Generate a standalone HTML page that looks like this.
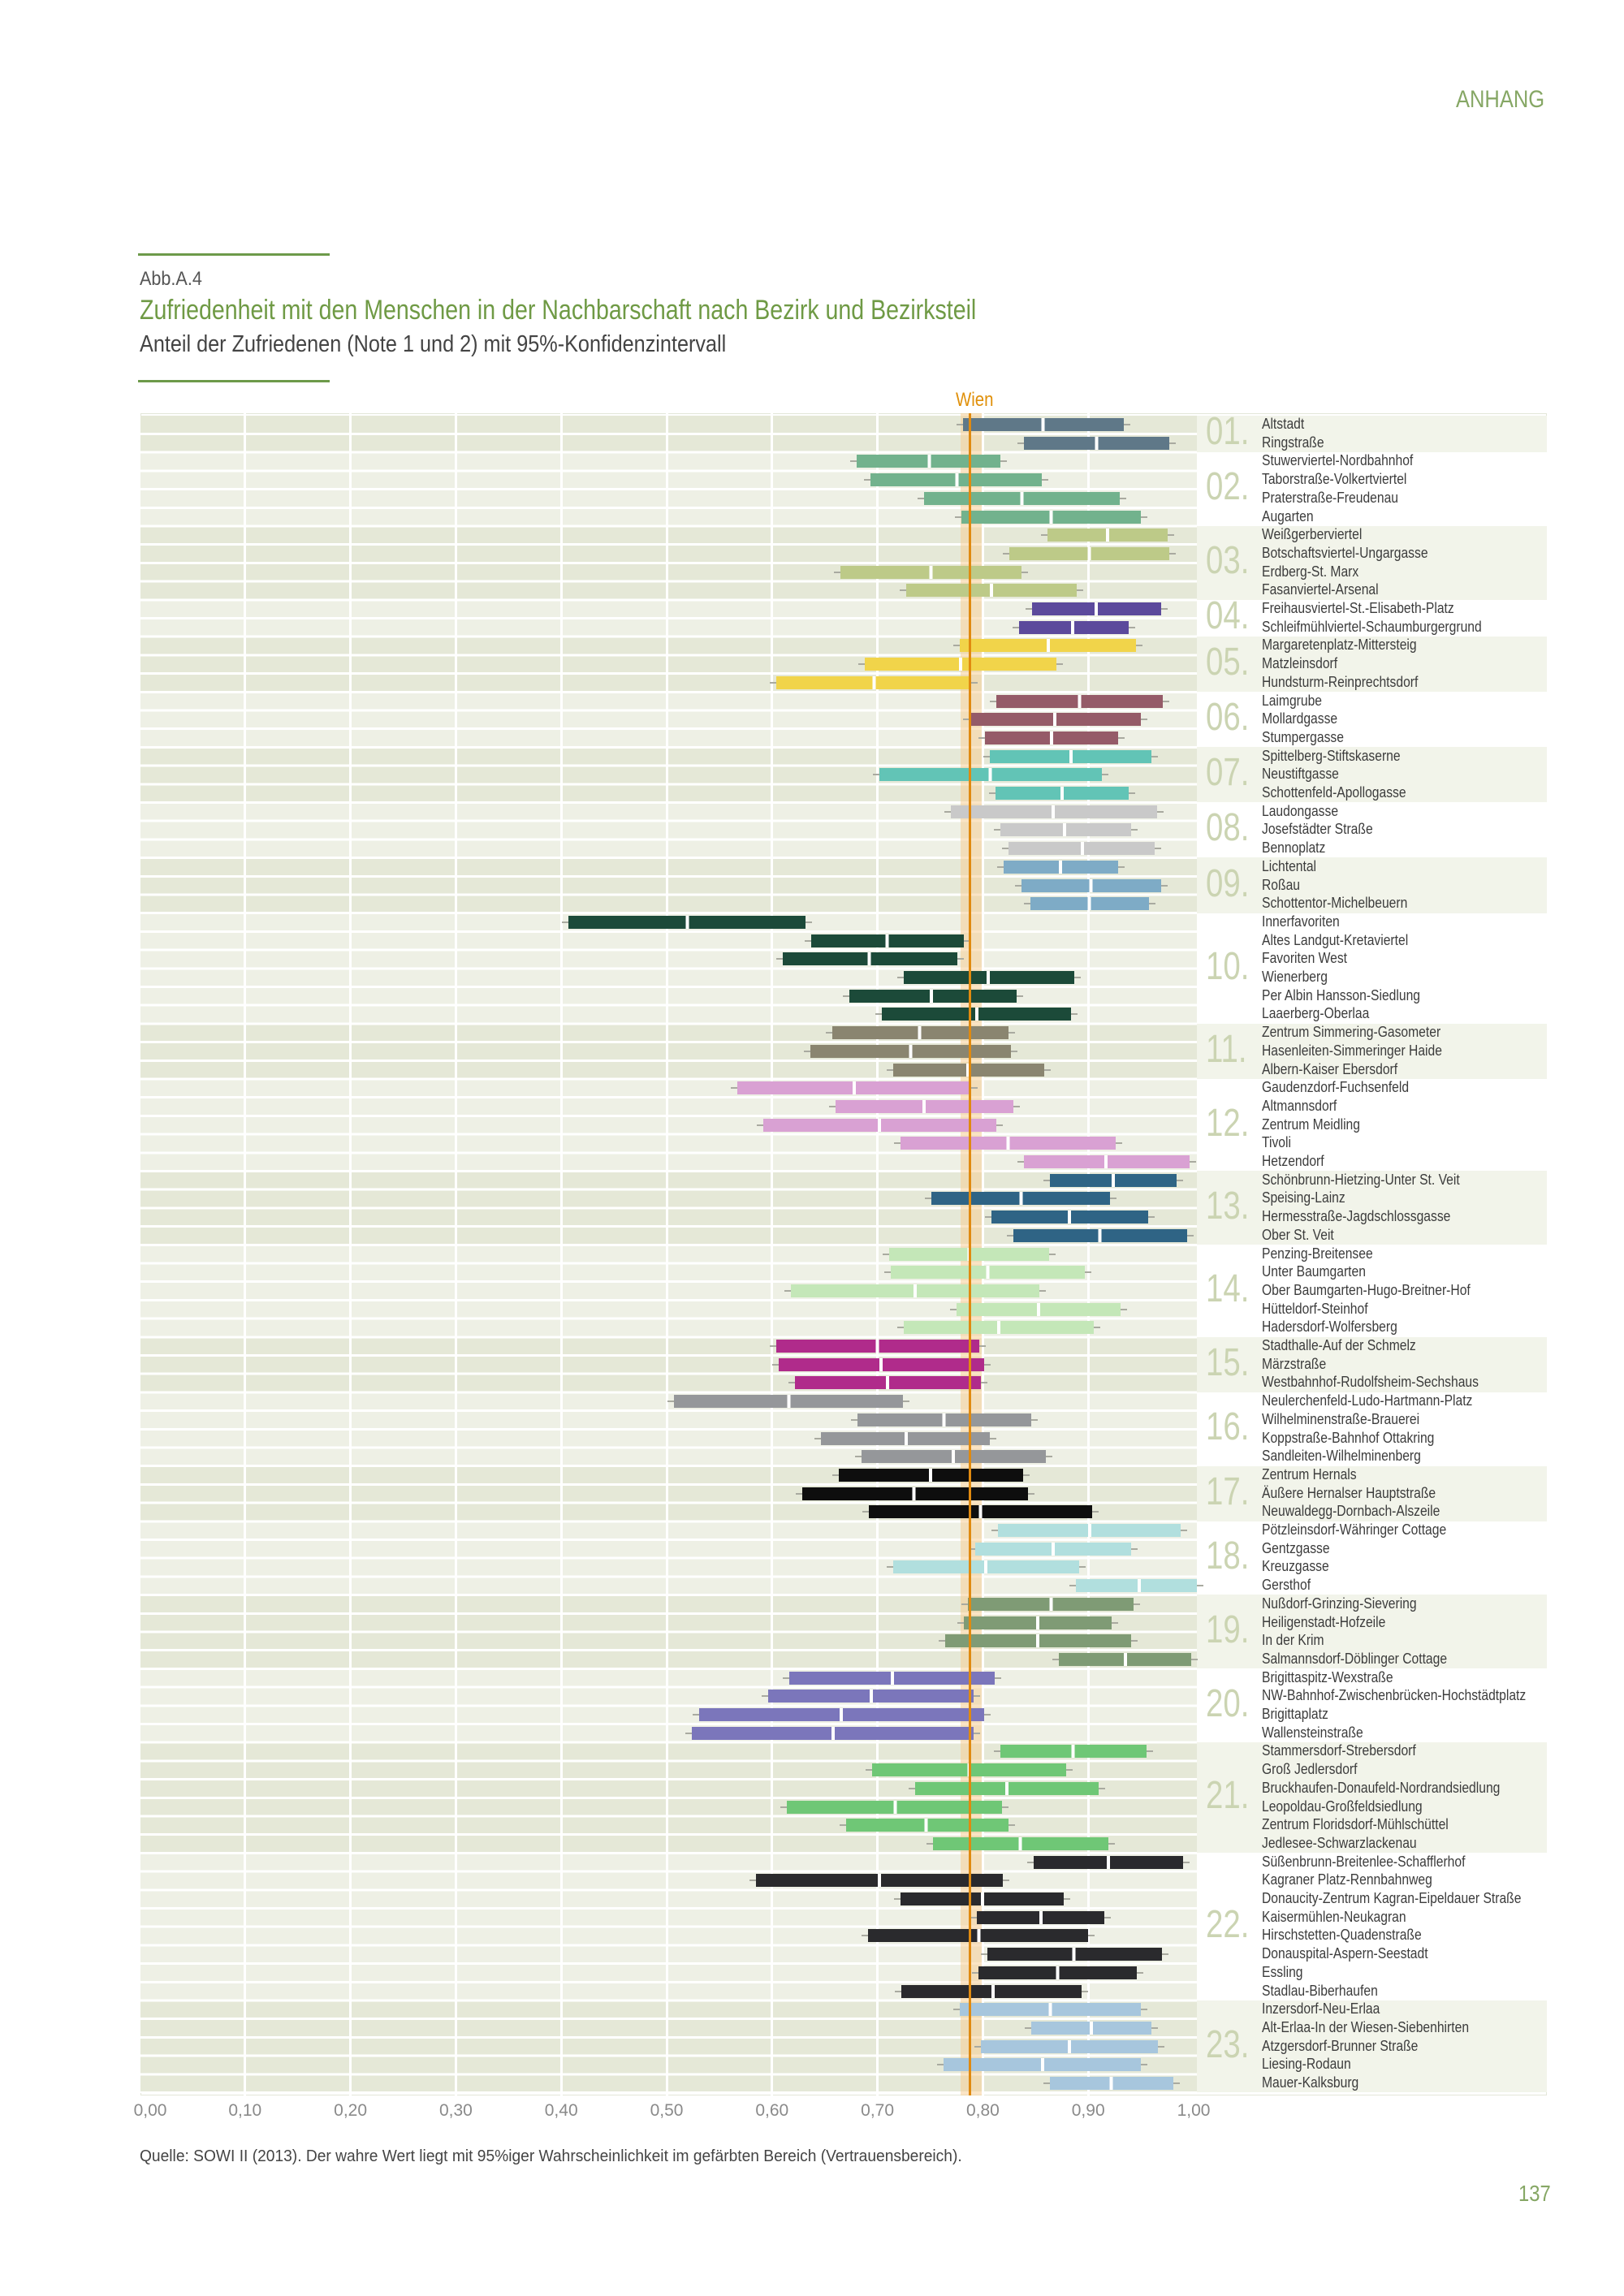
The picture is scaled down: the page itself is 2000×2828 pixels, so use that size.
<!DOCTYPE html>
<html><head><meta charset="utf-8">
<style>
*{margin:0;padding:0;box-sizing:border-box}
body{width:2000px;height:2828px;background:#fff;position:relative;overflow:hidden;font-family:"Liberation Sans Narrow","Liberation Sans",sans-serif}
.t{position:absolute;white-space:nowrap;transform-origin:left top}
.rule{position:absolute;left:170px;width:236px;height:3px;background:#6d9a4a}
.db{position:absolute;left:173px;width:1301px;top:calc(511.65px + 22.7px*var(--s));height:calc(22.7px*var(--n))}
.db.o{background:#e5e8d7}.db.e{background:#eef0e5}
.lp{position:absolute;left:1474px;width:431px;top:calc(511.65px + 22.7px*var(--s));height:calc(22.7px*var(--n))}
.lp.o{background:#f2f4ea}.lp.e{background:#fff}
.num{position:absolute;left:1485px;font-size:48px;color:#cbd4b2;line-height:1;transform:scaleX(.8);transform-origin:left top;top:calc(511.65px + 22.7px*(var(--s) + var(--n)/2) - 26px)}
.g{position:absolute;top:509px;height:2072px;width:3px;background:#fff;left:calc(170.5px + 129.8px*var(--k))}
.sep{position:absolute;left:173px;width:1301px;top:532.85px;height:2045px;background:repeating-linear-gradient(to bottom,#fff 0 3px,transparent 3px 22.7px)}
.bars i{position:absolute;height:16px;top:calc(515px + 22.7px*var(--i));left:calc(172px + 1298px*var(--l));width:calc(1298px*(var(--h) - var(--l)));
background:linear-gradient(to right,var(--c) 0 calc(1298px*(var(--m) - var(--l)) - 2px),#fff calc(1298px*(var(--m) - var(--l)) - 2px) calc(1298px*(var(--m) - var(--l)) + 2px),var(--c) calc(1298px*(var(--m) - var(--l)) + 2px))}
.bars i::before,.bars i::after{content:"";position:absolute;top:7px;height:2px;width:8px;background:#a9aaa0}
.bars i::before{left:-8px}.bars i::after{right:-8px}
.c1{--c:#5f7888}.c2{--c:#72b28d}.c3{--c:#bdca88}.c4{--c:#5c4a9c}.c5{--c:#f1d44a}.c6{--c:#955b68}.c7{--c:#62c4b6}.c8{--c:#c9c9c9}.c9{--c:#7eabc6}.c10{--c:#1c4a39}.c11{--c:#8a8570}.c12{--c:#d9a1d3}.c13{--c:#2f6485}.c14{--c:#c4e7b8}.c15{--c:#b02b8b}.c16{--c:#95979a}.c17{--c:#0e0e0e}.c18{--c:#b1dfde}.c19{--c:#7f9b75}.c20{--c:#7b76bb}.c21{--c:#6fc776}.c22{--c:#2a2a2d}.c23{--c:#a7c6dd}
.lab{position:absolute;left:1554px;font-size:18px;color:#3c3c3c;line-height:20px;white-space:nowrap;transform:scaleX(.87);transform-origin:left top;top:calc(512px + 22.7px*var(--i))}
.ax{position:absolute;top:2588px;font-size:21px;color:#8a8a8a;width:60px;margin-left:-30px;text-align:center;left:calc(172px + 129.8px*var(--k))}
</style></head><body>
<div class="t" style="left:1793px;top:106px;font-size:30px;color:#86a765;transform:scaleX(.85)">ANHANG</div>
<div class="rule" style="top:312px"></div>
<div class="t" style="left:172px;top:330px;font-size:24px;color:#555;transform:scaleX(.9)">Abb.A.4</div>
<div class="t" style="left:172px;top:363px;font-size:34px;color:#6f9a45;transform:scaleX(.84)">Zufriedenheit mit den Menschen in der Nachbarschaft nach Bezirk und Bezirksteil</div>
<div class="t" style="left:172px;top:408px;font-size:29px;color:#444;transform:scaleX(.87)">Anteil der Zufriedenen (Note 1 und 2) mit 95%-Konfidenzintervall</div>
<div class="rule" style="top:468px"></div>
<div class="t" style="left:1177px;top:479px;font-size:24px;color:#e0900a;transform:scaleX(.85)">Wien</div>

<div style="position:absolute;left:173px;top:509px;width:1732px;height:2072px;border:1px solid #e3e6d8;background:#fff"></div>

<div class="db o" style="--s:0;--n:2"></div><div class="db e" style="--s:2;--n:4"></div><div class="db o" style="--s:6;--n:4"></div><div class="db e" style="--s:10;--n:2"></div><div class="db o" style="--s:12;--n:3"></div><div class="db e" style="--s:15;--n:3"></div><div class="db o" style="--s:18;--n:3"></div><div class="db e" style="--s:21;--n:3"></div><div class="db o" style="--s:24;--n:3"></div><div class="db e" style="--s:27;--n:6"></div><div class="db o" style="--s:33;--n:3"></div><div class="db e" style="--s:36;--n:5"></div><div class="db o" style="--s:41;--n:4"></div><div class="db e" style="--s:45;--n:5"></div><div class="db o" style="--s:50;--n:3"></div><div class="db e" style="--s:53;--n:4"></div><div class="db o" style="--s:57;--n:3"></div><div class="db e" style="--s:60;--n:4"></div><div class="db o" style="--s:64;--n:4"></div><div class="db e" style="--s:68;--n:4"></div><div class="db o" style="--s:72;--n:6"></div><div class="db e" style="--s:78;--n:8"></div><div class="db o" style="--s:86;--n:5"></div>

<div class="lp o" style="--s:0;--n:2"></div><div class="lp e" style="--s:2;--n:4"></div><div class="lp o" style="--s:6;--n:4"></div><div class="lp e" style="--s:10;--n:2"></div><div class="lp o" style="--s:12;--n:3"></div><div class="lp e" style="--s:15;--n:3"></div><div class="lp o" style="--s:18;--n:3"></div><div class="lp e" style="--s:21;--n:3"></div><div class="lp o" style="--s:24;--n:3"></div><div class="lp e" style="--s:27;--n:6"></div><div class="lp o" style="--s:33;--n:3"></div><div class="lp e" style="--s:36;--n:5"></div><div class="lp o" style="--s:41;--n:4"></div><div class="lp e" style="--s:45;--n:5"></div><div class="lp o" style="--s:50;--n:3"></div><div class="lp e" style="--s:53;--n:4"></div><div class="lp o" style="--s:57;--n:3"></div><div class="lp e" style="--s:60;--n:4"></div><div class="lp o" style="--s:64;--n:4"></div><div class="lp e" style="--s:68;--n:4"></div><div class="lp o" style="--s:72;--n:6"></div><div class="lp e" style="--s:78;--n:8"></div><div class="lp o" style="--s:86;--n:5"></div>

<div class="sep"></div>
<div class="g" style="--k:1"></div><div class="g" style="--k:2"></div><div class="g" style="--k:3"></div><div class="g" style="--k:4"></div><div class="g" style="--k:5"></div><div class="g" style="--k:6"></div><div class="g" style="--k:7"></div><div class="g" style="--k:8"></div><div class="g" style="--k:9"></div>

<div style="position:absolute;left:1183px;width:26px;top:509px;height:2072px;background:rgba(245,205,150,.55)"></div>

<div class="bars">
<i class="c1" style="--i:0;--l:.781;--h:.934;--m:.857"></i>
<i class="c1" style="--i:1;--l:.839;--h:.977;--m:.908"></i>
<i class="c2" style="--i:2;--l:.680;--h:.817;--m:.749"></i>
<i class="c2" style="--i:3;--l:.693;--h:.856;--m:.775"></i>
<i class="c2" style="--i:4;--l:.744;--h:.930;--m:.837"></i>
<i class="c2" style="--i:5;--l:.780;--h:.950;--m:.865"></i>
<i class="c3" style="--i:6;--l:.861;--h:.975;--m:.918"></i>
<i class="c3" style="--i:7;--l:.825;--h:.977;--m:.901"></i>
<i class="c3" style="--i:8;--l:.665;--h:.837;--m:.751"></i>
<i class="c3" style="--i:9;--l:.727;--h:.889;--m:.808"></i>
<i class="c4" style="--i:10;--l:.847;--h:.969;--m:.908"></i>
<i class="c4" style="--i:11;--l:.834;--h:.938;--m:.885"></i>
<i class="c5" style="--i:12;--l:.778;--h:.945;--m:.862"></i>
<i class="c5" style="--i:13;--l:.688;--h:.870;--m:.779"></i>
<i class="c5" style="--i:14;--l:.604;--h:.789;--m:.697"></i>
<i class="c6" style="--i:15;--l:.813;--h:.971;--m:.892"></i>
<i class="c6" style="--i:16;--l:.787;--h:.950;--m:.868"></i>
<i class="c6" style="--i:17;--l:.802;--h:.928;--m:.865"></i>
<i class="c7" style="--i:18;--l:.807;--h:.960;--m:.884"></i>
<i class="c7" style="--i:19;--l:.702;--h:.913;--m:.807"></i>
<i class="c7" style="--i:20;--l:.812;--h:.938;--m:.875"></i>
<i class="c8" style="--i:21;--l:.770;--h:.965;--m:.867"></i>
<i class="c8" style="--i:22;--l:.817;--h:.941;--m:.878"></i>
<i class="c8" style="--i:23;--l:.824;--h:.963;--m:.894"></i>
<i class="c9" style="--i:24;--l:.820;--h:.928;--m:.874"></i>
<i class="c9" style="--i:25;--l:.837;--h:.969;--m:.903"></i>
<i class="c9" style="--i:26;--l:.845;--h:.958;--m:.901"></i>
<i class="c10" style="--i:27;--l:.407;--h:.632;--m:.520"></i>
<i class="c10" style="--i:28;--l:.637;--h:.782;--m:.709"></i>
<i class="c10" style="--i:29;--l:.610;--h:.776;--m:.692"></i>
<i class="c10" style="--i:30;--l:.725;--h:.887;--m:.805"></i>
<i class="c10" style="--i:31;--l:.673;--h:.832;--m:.751"></i>
<i class="c10" style="--i:32;--l:.704;--h:.884;--m:.794"></i>
<i class="c11" style="--i:33;--l:.657;--h:.824;--m:.740"></i>
<i class="c11" style="--i:34;--l:.636;--h:.827;--m:.731"></i>
<i class="c11" style="--i:35;--l:.715;--h:.858;--m:.786"></i>
<i class="c12" style="--i:36;--l:.567;--h:.789;--m:.678"></i>
<i class="c12" style="--i:37;--l:.660;--h:.829;--m:.744"></i>
<i class="c12" style="--i:38;--l:.592;--h:.813;--m:.702"></i>
<i class="c12" style="--i:39;--l:.722;--h:.926;--m:.824"></i>
<i class="c12" style="--i:40;--l:.839;--h:.996;--m:.917"></i>
<i class="c13" style="--i:41;--l:.864;--h:.984;--m:.924"></i>
<i class="c13" style="--i:42;--l:.751;--h:.921;--m:.836"></i>
<i class="c13" style="--i:43;--l:.808;--h:.957;--m:.882"></i>
<i class="c13" style="--i:44;--l:.829;--h:.994;--m:.911"></i>
<i class="c14" style="--i:45;--l:.711;--h:.863;--m:.787"></i>
<i class="c14" style="--i:46;--l:.713;--h:.897;--m:.805"></i>
<i class="c14" style="--i:47;--l:.618;--h:.854;--m:.736"></i>
<i class="c14" style="--i:48;--l:.775;--h:.931;--m:.853"></i>
<i class="c14" style="--i:49;--l:.725;--h:.905;--m:.815"></i>
<i class="c15" style="--i:50;--l:.604;--h:.797;--m:.700"></i>
<i class="c15" style="--i:51;--l:.606;--h:.801;--m:.703"></i>
<i class="c15" style="--i:52;--l:.622;--h:.798;--m:.710"></i>
<i class="c16" style="--i:53;--l:.507;--h:.724;--m:.616"></i>
<i class="c16" style="--i:54;--l:.681;--h:.846;--m:.763"></i>
<i class="c16" style="--i:55;--l:.646;--h:.807;--m:.727"></i>
<i class="c16" style="--i:56;--l:.685;--h:.860;--m:.772"></i>
<i class="c17" style="--i:57;--l:.663;--h:.838;--m:.750"></i>
<i class="c17" style="--i:58;--l:.629;--h:.843;--m:.735"></i>
<i class="c17" style="--i:59;--l:.692;--h:.904;--m:.798"></i>
<i class="c18" style="--i:60;--l:.814;--h:.988;--m:.901"></i>
<i class="c18" style="--i:61;--l:.793;--h:.941;--m:.867"></i>
<i class="c18" style="--i:62;--l:.715;--h:.891;--m:.803"></i>
<i class="c18" style="--i:63;--l:.888;--h:1.003;--m:.948"></i>
<i class="c19" style="--i:64;--l:.786;--h:.943;--m:.865"></i>
<i class="c19" style="--i:65;--l:.782;--h:.922;--m:.852"></i>
<i class="c19" style="--i:66;--l:.764;--h:.941;--m:.852"></i>
<i class="c19" style="--i:67;--l:.872;--h:.998;--m:.935"></i>
<i class="c20" style="--i:68;--l:.616;--h:.811;--m:.714"></i>
<i class="c20" style="--i:69;--l:.596;--h:.791;--m:.694"></i>
<i class="c20" style="--i:70;--l:.531;--h:.801;--m:.666"></i>
<i class="c20" style="--i:71;--l:.524;--h:.791;--m:.658"></i>
<i class="c21" style="--i:72;--l:.817;--h:.955;--m:.886"></i>
<i class="c21" style="--i:73;--l:.695;--h:.879;--m:.787"></i>
<i class="c21" style="--i:74;--l:.736;--h:.910;--m:.823"></i>
<i class="c21" style="--i:75;--l:.614;--h:.818;--m:.717"></i>
<i class="c21" style="--i:76;--l:.670;--h:.824;--m:.746"></i>
<i class="c21" style="--i:77;--l:.753;--h:.919;--m:.836"></i>
<i class="c22" style="--i:78;--l:.848;--h:.990;--m:.919"></i>
<i class="c22" style="--i:79;--l:.585;--h:.819;--m:.702"></i>
<i class="c22" style="--i:80;--l:.722;--h:.877;--m:.800"></i>
<i class="c22" style="--i:81;--l:.794;--h:.915;--m:.855"></i>
<i class="c22" style="--i:82;--l:.691;--h:.900;--m:.796"></i>
<i class="c22" style="--i:83;--l:.804;--h:.970;--m:.886"></i>
<i class="c22" style="--i:84;--l:.796;--h:.946;--m:.871"></i>
<i class="c22" style="--i:85;--l:.723;--h:.894;--m:.810"></i>
<i class="c23" style="--i:86;--l:.778;--h:.950;--m:.864"></i>
<i class="c23" style="--i:87;--l:.846;--h:.960;--m:.903"></i>
<i class="c23" style="--i:88;--l:.798;--h:.966;--m:.882"></i>
<i class="c23" style="--i:89;--l:.763;--h:.950;--m:.857"></i>
<i class="c23" style="--i:90;--l:.864;--h:.981;--m:.922"></i>
</div>

<div style="position:absolute;left:1193px;width:3px;top:509px;height:2072px;background:#e08a10"></div>

<div class="num" style="--s:0;--n:2">01.</div><div class="num" style="--s:2;--n:4">02.</div><div class="num" style="--s:6;--n:4">03.</div><div class="num" style="--s:10;--n:2">04.</div><div class="num" style="--s:12;--n:3">05.</div><div class="num" style="--s:15;--n:3">06.</div><div class="num" style="--s:18;--n:3">07.</div><div class="num" style="--s:21;--n:3">08.</div><div class="num" style="--s:24;--n:3">09.</div><div class="num" style="--s:27;--n:6">10.</div><div class="num" style="--s:33;--n:3">11.</div><div class="num" style="--s:36;--n:5">12.</div><div class="num" style="--s:41;--n:4">13.</div><div class="num" style="--s:45;--n:5">14.</div><div class="num" style="--s:50;--n:3">15.</div><div class="num" style="--s:53;--n:4">16.</div><div class="num" style="--s:57;--n:3">17.</div><div class="num" style="--s:60;--n:4">18.</div><div class="num" style="--s:64;--n:4">19.</div><div class="num" style="--s:68;--n:4">20.</div><div class="num" style="--s:72;--n:6">21.</div><div class="num" style="--s:78;--n:8">22.</div><div class="num" style="--s:86;--n:5">23.</div>

<div class="lab" style="--i:0">Altstadt</div>
<div class="lab" style="--i:1">Ringstraße</div>
<div class="lab" style="--i:2">Stuwerviertel-Nordbahnhof</div>
<div class="lab" style="--i:3">Taborstraße-Volkertviertel</div>
<div class="lab" style="--i:4">Praterstraße-Freudenau</div>
<div class="lab" style="--i:5">Augarten</div>
<div class="lab" style="--i:6">Weißgerberviertel</div>
<div class="lab" style="--i:7">Botschaftsviertel-Ungargasse</div>
<div class="lab" style="--i:8">Erdberg-St. Marx</div>
<div class="lab" style="--i:9">Fasanviertel-Arsenal</div>
<div class="lab" style="--i:10">Freihausviertel-St.-Elisabeth-Platz</div>
<div class="lab" style="--i:11">Schleifmühlviertel-Schaumburgergrund</div>
<div class="lab" style="--i:12">Margaretenplatz-Mittersteig</div>
<div class="lab" style="--i:13">Matzleinsdorf</div>
<div class="lab" style="--i:14">Hundsturm-Reinprechtsdorf</div>
<div class="lab" style="--i:15">Laimgrube</div>
<div class="lab" style="--i:16">Mollardgasse</div>
<div class="lab" style="--i:17">Stumpergasse</div>
<div class="lab" style="--i:18">Spittelberg-Stiftskaserne</div>
<div class="lab" style="--i:19">Neustiftgasse</div>
<div class="lab" style="--i:20">Schottenfeld-Apollogasse</div>
<div class="lab" style="--i:21">Laudongasse</div>
<div class="lab" style="--i:22">Josefstädter Straße</div>
<div class="lab" style="--i:23">Bennoplatz</div>
<div class="lab" style="--i:24">Lichtental</div>
<div class="lab" style="--i:25">Roßau</div>
<div class="lab" style="--i:26">Schottentor-Michelbeuern</div>
<div class="lab" style="--i:27">Innerfavoriten</div>
<div class="lab" style="--i:28">Altes Landgut-Kretaviertel</div>
<div class="lab" style="--i:29">Favoriten West</div>
<div class="lab" style="--i:30">Wienerberg</div>
<div class="lab" style="--i:31">Per Albin Hansson-Siedlung</div>
<div class="lab" style="--i:32">Laaerberg-Oberlaa</div>
<div class="lab" style="--i:33">Zentrum Simmering-Gasometer</div>
<div class="lab" style="--i:34">Hasenleiten-Simmeringer Haide</div>
<div class="lab" style="--i:35">Albern-Kaiser Ebersdorf</div>
<div class="lab" style="--i:36">Gaudenzdorf-Fuchsenfeld</div>
<div class="lab" style="--i:37">Altmannsdorf</div>
<div class="lab" style="--i:38">Zentrum Meidling</div>
<div class="lab" style="--i:39">Tivoli</div>
<div class="lab" style="--i:40">Hetzendorf</div>
<div class="lab" style="--i:41">Schönbrunn-Hietzing-Unter St. Veit</div>
<div class="lab" style="--i:42">Speising-Lainz</div>
<div class="lab" style="--i:43">Hermesstraße-Jagdschlossgasse</div>
<div class="lab" style="--i:44">Ober St. Veit</div>
<div class="lab" style="--i:45">Penzing-Breitensee</div>
<div class="lab" style="--i:46">Unter Baumgarten</div>
<div class="lab" style="--i:47">Ober Baumgarten-Hugo-Breitner-Hof</div>
<div class="lab" style="--i:48">Hütteldorf-Steinhof</div>
<div class="lab" style="--i:49">Hadersdorf-Wolfersberg</div>
<div class="lab" style="--i:50">Stadthalle-Auf der Schmelz</div>
<div class="lab" style="--i:51">Märzstraße</div>
<div class="lab" style="--i:52">Westbahnhof-Rudolfsheim-Sechshaus</div>
<div class="lab" style="--i:53">Neulerchenfeld-Ludo-Hartmann-Platz</div>
<div class="lab" style="--i:54">Wilhelminenstraße-Brauerei</div>
<div class="lab" style="--i:55">Koppstraße-Bahnhof Ottakring</div>
<div class="lab" style="--i:56">Sandleiten-Wilhelminenberg</div>
<div class="lab" style="--i:57">Zentrum Hernals</div>
<div class="lab" style="--i:58">Äußere Hernalser Hauptstraße</div>
<div class="lab" style="--i:59">Neuwaldegg-Dornbach-Alszeile</div>
<div class="lab" style="--i:60">Pötzleinsdorf-Währinger Cottage</div>
<div class="lab" style="--i:61">Gentzgasse</div>
<div class="lab" style="--i:62">Kreuzgasse</div>
<div class="lab" style="--i:63">Gersthof</div>
<div class="lab" style="--i:64">Nußdorf-Grinzing-Sievering</div>
<div class="lab" style="--i:65">Heiligenstadt-Hofzeile</div>
<div class="lab" style="--i:66">In der Krim</div>
<div class="lab" style="--i:67">Salmannsdorf-Döblinger Cottage</div>
<div class="lab" style="--i:68">Brigittaspitz-Wexstraße</div>
<div class="lab" style="--i:69">NW-Bahnhof-Zwischenbrücken-Hochstädtplatz</div>
<div class="lab" style="--i:70">Brigittaplatz</div>
<div class="lab" style="--i:71">Wallensteinstraße</div>
<div class="lab" style="--i:72">Stammersdorf-Strebersdorf</div>
<div class="lab" style="--i:73">Groß Jedlersdorf</div>
<div class="lab" style="--i:74">Bruckhaufen-Donaufeld-Nordrandsiedlung</div>
<div class="lab" style="--i:75">Leopoldau-Großfeldsiedlung</div>
<div class="lab" style="--i:76">Zentrum Floridsdorf-Mühlschüttel</div>
<div class="lab" style="--i:77">Jedlesee-Schwarzlackenau</div>
<div class="lab" style="--i:78">Süßenbrunn-Breitenlee-Schafflerhof</div>
<div class="lab" style="--i:79">Kagraner Platz-Rennbahnweg</div>
<div class="lab" style="--i:80">Donaucity-Zentrum Kagran-Eipeldauer Straße</div>
<div class="lab" style="--i:81">Kaisermühlen-Neukagran</div>
<div class="lab" style="--i:82">Hirschstetten-Quadenstraße</div>
<div class="lab" style="--i:83">Donauspital-Aspern-Seestadt</div>
<div class="lab" style="--i:84">Essling</div>
<div class="lab" style="--i:85">Stadlau-Biberhaufen</div>
<div class="lab" style="--i:86">Inzersdorf-Neu-Erlaa</div>
<div class="lab" style="--i:87">Alt-Erlaa-In der Wiesen-Siebenhirten</div>
<div class="lab" style="--i:88">Atzgersdorf-Brunner Straße</div>
<div class="lab" style="--i:89">Liesing-Rodaun</div>
<div class="lab" style="--i:90">Mauer-Kalksburg</div>

<div class="ax" style="--k:0;margin-left:-17px">0,00</div><div class="ax" style="--k:1">0,10</div><div class="ax" style="--k:2">0,20</div><div class="ax" style="--k:3">0,30</div><div class="ax" style="--k:4">0,40</div><div class="ax" style="--k:5">0,50</div><div class="ax" style="--k:6">0,60</div><div class="ax" style="--k:7">0,70</div><div class="ax" style="--k:8">0,80</div><div class="ax" style="--k:9">0,90</div><div class="ax" style="--k:10">1,00</div>

<div class="t" style="left:172px;top:2645px;font-size:20px;color:#444;transform:scaleX(.96)">Quelle: SOWI II (2013). Der wahre Wert liegt mit 95%iger Wahrscheinlichkeit im gefärbten Bereich (Vertrauensbereich).</div>
<div class="t" style="left:1870px;top:2686px;font-size:28px;color:#86a765;transform:scaleX(.85)">137</div>
</body></html>
